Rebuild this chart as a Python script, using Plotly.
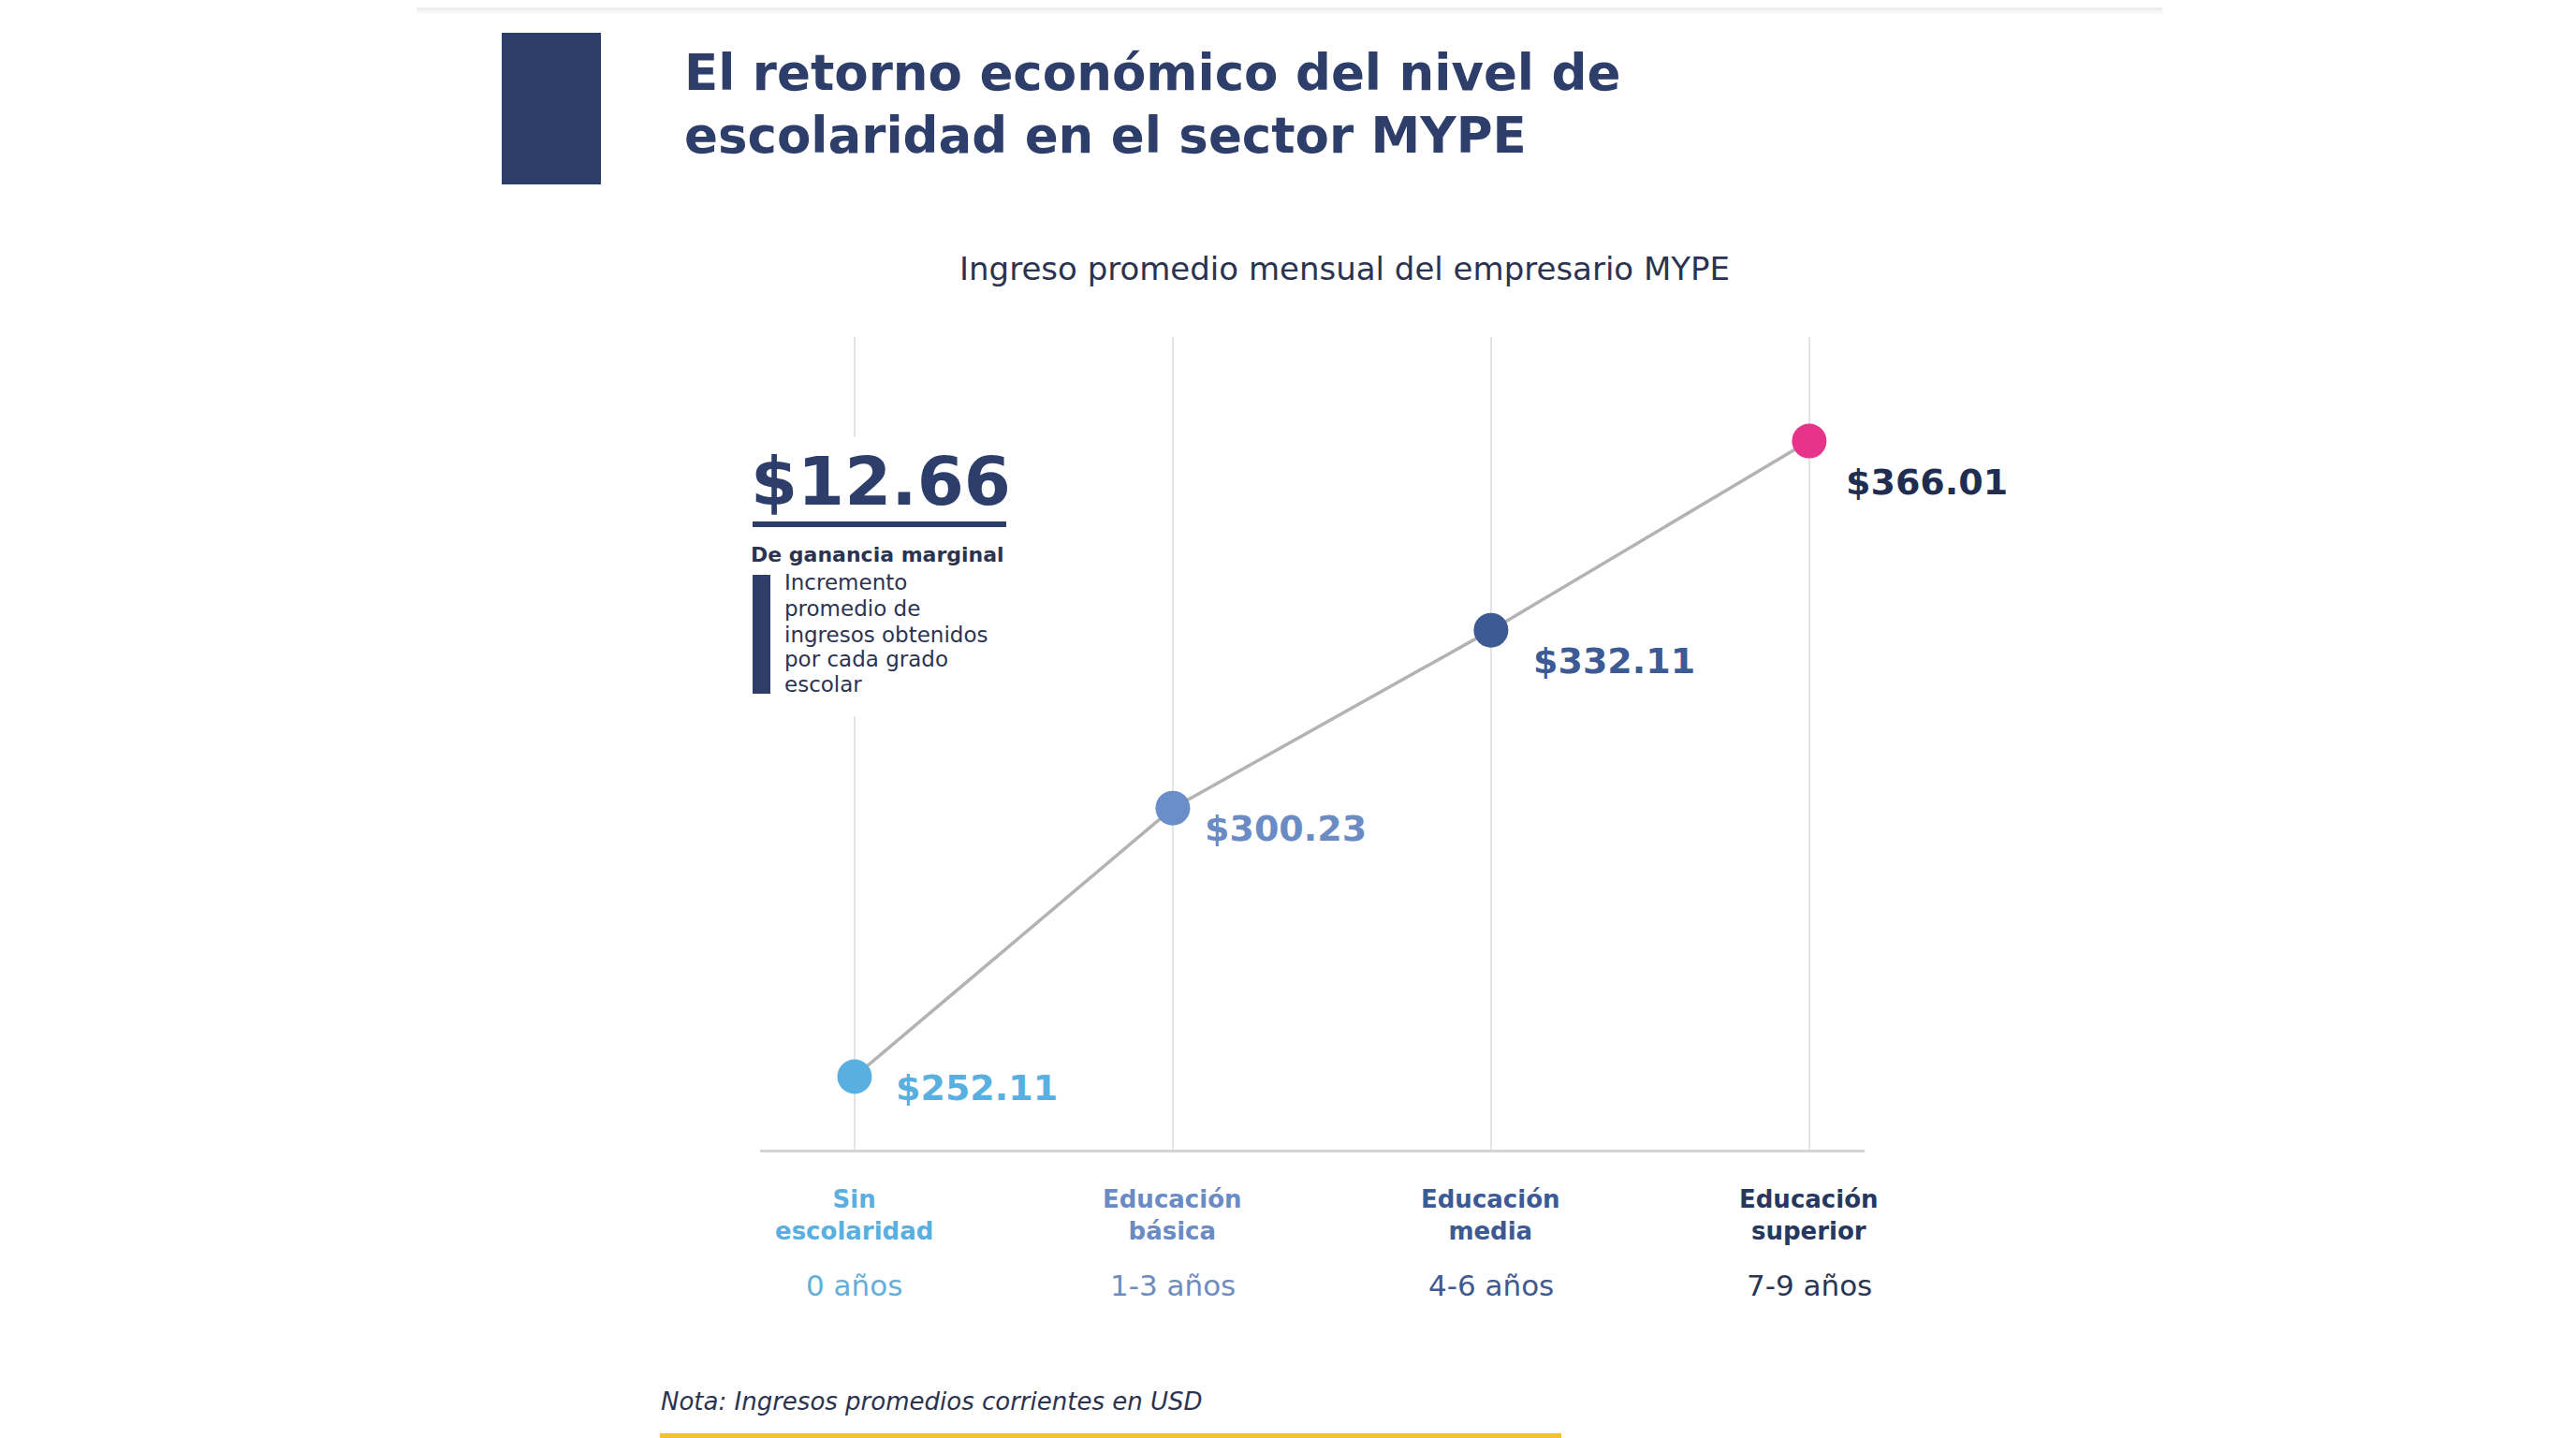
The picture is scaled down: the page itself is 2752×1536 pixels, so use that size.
import plotly.graph_objects as go

# data
categories = ["Sin<br>escolaridad", "Educación<br>básica", "Educación<br>media", "Educación<br>superior"]
years = ["0 años", "1-3 años", "4-6 años", "7-9 años"]
income = [252.11, 300.23, 332.11, 366.01]
marginal_gain = 12.66

title_lines = ["El retorno económico del nivel de", "escolaridad en el sector MYPE"]
subtitle = "Ingreso promedio mensual del empresario MYPE"
gain_label = "De ganancia marginal"
gain_note = ["Incremento", "promedio de", "ingresos obtenidos", "por cada grado", "escolar"]
note = "Nota: Ingresos promedios corrientes en USD"

# styles
PAGE_MARGIN = 8  # browser body margin
W, H = 2752 - PAGE_MARGIN, 1536 - PAGE_MARGIN
NAVY = "#2d3e6b"
DARK = "#2c3350"
marker_colors = ["#58afe0", "#6a8fc8", "#3c5a93", "#e8338a"]
label_colors = ["#58afe0", "#6a8bc3", "#3c5a93", "#1f2e50"]
cat_colors = ["#58afe0", "#6a8bc3", "#3c5a93", "#27385e"]
years_colors = ["#62b0da", "#6f8cbf", "#3f5a8f", "#2a3654"]
label_offsets = [(42, 12), (32, 22), (43, 33), (37, 44)]  # px right / px down from point
note_rows = [622, 650, 678, 704, 731]
FONT = "DejaVu Sans"


def px(x):
    return (x - PAGE_MARGIN) / W


def py(y):
    return 1 - (y - PAGE_MARGIN) / H


fig = go.Figure()

fig.add_trace(go.Scatter(
    x=list(range(len(income))), y=income,
    mode="lines+markers",
    line=dict(color="#b3b3b3", width=3.5),
    marker=dict(size=37, color=marker_colors, line=dict(width=0)),
    hoverinfo="skip", showlegend=False,
))

annotations = []

# value labels
for i, v in enumerate(income):
    dx, dy = label_offsets[i]
    annotations.append(dict(
        x=i, y=v, xref="x", yref="y", text=f"<b>${v:.2f}</b>",
        showarrow=False, xanchor="left", yanchor="middle",
        xshift=dx, yshift=-dy,
        font=dict(family=FONT, size=38, color=label_colors[i]),
    ))

# category labels under the axis
for i, (c, yr) in enumerate(zip(categories, years)):
    annotations.append(dict(
        x=i, y=py(1298), xref="x", yref="paper", text=f"<b>{c}</b>",
        showarrow=False, xanchor="center", yanchor="middle", align="center",
        font=dict(family=FONT, size=26, color=cat_colors[i]),
    ))
    annotations.append(dict(
        x=i, y=py(1373), xref="x", yref="paper", text=yr,
        showarrow=False, xanchor="center", yanchor="middle",
        font=dict(family=FONT, size=31, color=years_colors[i]),
    ))

# title block
for line, yc in zip(title_lines, [77, 145]):
    annotations.append(dict(
        x=px(729), y=py(yc), xref="paper", yref="paper", text=f"<b>{line}</b>",
        showarrow=False, xanchor="left", yanchor="middle",
        font=dict(family=FONT, size=53, color=NAVY),
    ))
annotations.append(dict(
    x=px(1436), y=py(287), xref="paper", yref="paper", text=subtitle,
    showarrow=False, xanchor="center", yanchor="middle",
    font=dict(family=FONT, size=34, color=DARK),
))

# marginal gain callout
annotations.append(dict(
    x=px(800), y=py(514), xref="paper", yref="paper", text=f"<b>${marginal_gain:.2f}</b>",
    showarrow=False, xanchor="left", yanchor="middle",
    font=dict(family=FONT, size=72, color=NAVY),
))
annotations.append(dict(
    x=px(800), y=py(592), xref="paper", yref="paper", text=f"<b>{gain_label}</b>",
    showarrow=False, xanchor="left", yanchor="middle",
    font=dict(family=FONT, size=22, color=DARK),
))
for line, yc in zip(gain_note, note_rows):
    annotations.append(dict(
        x=px(836), y=py(yc), xref="paper", yref="paper", text=line,
        showarrow=False, xanchor="left", yanchor="middle",
        font=dict(family=FONT, size=23, color=DARK),
    ))

# note
annotations.append(dict(
    x=px(704), y=py(1497), xref="paper", yref="paper", text=f"<i>{note}</i>",
    showarrow=False, xanchor="left", yanchor="middle",
    font=dict(family=FONT, size=26, color=DARK),
))

shapes = [
    # top shadow
    dict(type="rect", xref="paper", yref="paper", x0=px(445), x1=px(2310), y0=py(PAGE_MARGIN), y1=py(11),
         fillcolor="#ededed", line_width=0, layer="below"),
    dict(type="rect", xref="paper", yref="paper", x0=px(445), x1=px(2310), y0=py(11), y1=py(15),
         fillcolor="#f8f8f8", line_width=0, layer="below"),
    # title square
    dict(type="rect", xref="paper", yref="paper", x0=px(536), x1=px(642), y0=py(35), y1=py(197),
         fillcolor=NAVY, line_width=0),
    # white gap in first gridline behind callout
    dict(type="rect", xref="paper", yref="paper", x0=px(890), x1=px(940), y0=py(467), y1=py(765),
         fillcolor="white", line_width=0, layer="above"),
    # underline of callout
    dict(type="rect", xref="paper", yref="paper", x0=px(804), x1=px(1075), y0=py(557), y1=py(563),
         fillcolor=NAVY, line_width=0),
    # vertical bar of callout
    dict(type="rect", xref="paper", yref="paper", x0=px(804), x1=px(823), y0=py(614), y1=py(741),
         fillcolor=NAVY, line_width=0),
    # yellow rule at the bottom
    dict(type="rect", xref="paper", yref="paper", x0=px(705), x1=px(1668), y0=py(1531), y1=py(1536),
         fillcolor="#f2c230", line_width=0),
]

fig.update_layout(
    width=W, height=H,
    margin=dict(l=0, r=0, t=0, b=0),
    paper_bgcolor="white", plot_bgcolor="white",
    showlegend=False,
    annotations=annotations,
    shapes=shapes,
    xaxis=dict(
        domain=[px(812), px(1992)], range=[-0.297, 3.174],
        tickvals=list(range(len(income))), showticklabels=False, ticks="",
        showgrid=True, gridcolor="#e4e4e4", gridwidth=2,
        zeroline=False, showline=True, linecolor="#d4d4d4", linewidth=3,
    ),
    yaxis=dict(
        domain=[py(1228), py(360)], range=[239.03, 384.64],
        showticklabels=False, showgrid=False, zeroline=False, showline=False,
    ),
)

fig.write_html("out.html")
